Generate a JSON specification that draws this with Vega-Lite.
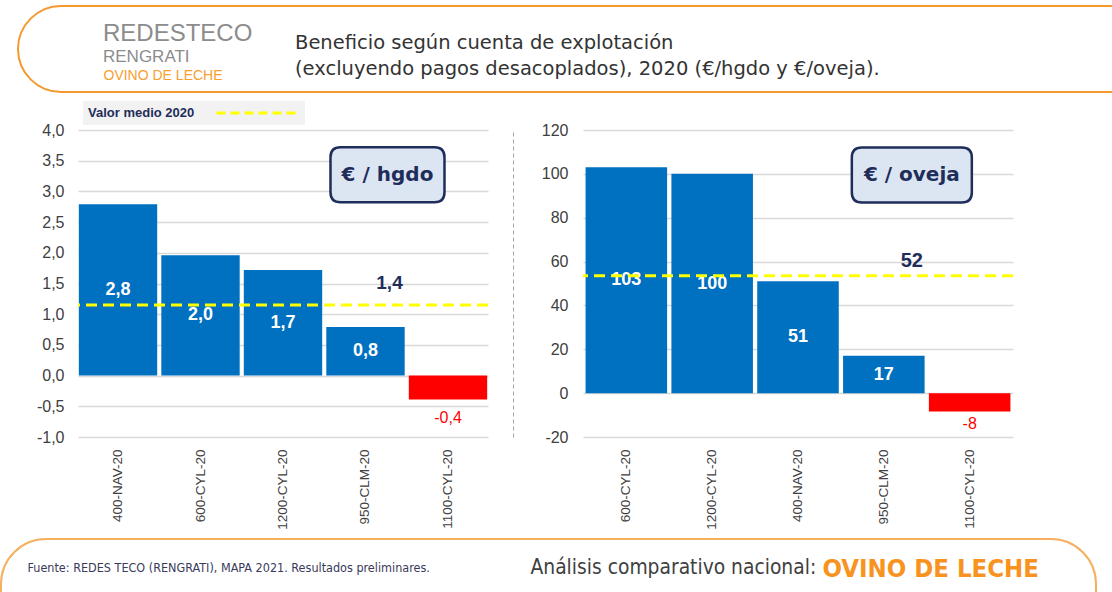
{
  "$schema": "https://vega.github.io/schema/vega-lite/v6.json",
  "background": "white",
  "padding": {"left": 0, "top": 5, "right": 0, "bottom": 0},
  "bounds": "flush",
  "spacing": 95,
  "config": {
    "locale": {"number": {"decimal": ",", "thousands": ".", "grouping": [3], "currency": ["", " €"], "minus": "-"}},
    "view": {"stroke": null},
    "font": "Liberation Sans",
    "legend": {"strokeWidth": 2}
  },
  "datasets": {
    "hgdo": [
      {"explotacion": "400-NAV-20", "beneficio": 2.79},
      {"explotacion": "600-CYL-20", "beneficio": 1.96},
      {"explotacion": "1200-CYL-20", "beneficio": 1.72},
      {"explotacion": "950-CLM-20", "beneficio": 0.79},
      {"explotacion": "1100-CYL-20", "beneficio": -0.39}
    ],
    "oveja": [
      {"explotacion": "600-CYL-20", "beneficio": 103},
      {"explotacion": "1200-CYL-20", "beneficio": 100},
      {"explotacion": "400-NAV-20", "beneficio": 51},
      {"explotacion": "950-CLM-20", "beneficio": 17},
      {"explotacion": "1100-CYL-20", "beneficio": -8.4}
    ],
    "media_hgdo": [{"media": 1.15, "etiqueta": "1,4", "unidad": "€ / hgdo", "leyenda": "Valor medio 2020"}],
    "media_oveja": [{"media": 53.5, "etiqueta": "52", "unidad": "€ / oveja", "leyenda": "Valor medio 2020"}]
  },
  "resolve": {
    "scale": {"x": "independent", "y": "independent", "color": "independent", "shape": "independent"},
    "legend": {"color": "independent", "shape": "independent"}
  },
  "hconcat": [
    {
      "width": 410,
      "height": 307,
      "title": {
        "text": "REDESTECO",
        "subtitle": "RENGRATI",
        "anchor": "start",
        "frame": "group",
        "dx": 25,
        "offset": 3,
        "font": "Liberation Sans",
        "fontSize": 24,
        "fontWeight": "normal",
        "color": "#8c8c8c",
        "subtitleFont": "Liberation Sans",
        "subtitleFontSize": 17,
        "subtitleColor": "#8c8c8c",
        "subtitlePadding": 3
      },
      "data": {"name": "hgdo"},
      "resolve": {"scale": {"y": "independent"}, "axis": {"y": "independent"}},
      "layer": [
        {
          "mark": {"type": "bar"},
          "encoding": {
            "x": {
              "field": "explotacion", "type": "nominal",
              "scale": {"domain": ["400-NAV-20", "600-CYL-20", "1200-CYL-20", "950-CLM-20", "1100-CYL-20"], "paddingInner": 0.05, "paddingOuter": 0.01},
              "axis": {
                "labelAngle": -90, "labelFontSize": 13.5, "labelColor": "#404040", "labelPadding": 12,
                "ticks": false, "domain": false,
                "title": "Fuente: REDES TECO (RENGRATI), MAPA 2021. Resultados preliminares.",
                "titleX": -51, "titleY": 130, "titleAlign": "left", "titleBaseline": "middle",
                "titleFont": "DejaVu Sans Condensed", "titleFontSize": 12.5, "titleFontWeight": "normal", "titleColor": "#3a3a5a"
              }
            },
            "y": {
              "field": "beneficio", "type": "quantitative",
              "scale": {"domain": [-1, 4], "nice": false},
              "axis": {
                "values": [-1, -0.5, 0, 0.5, 1, 1.5, 2, 2.5, 3, 3.5, 4],
                "format": ".1f",
                "grid": true, "gridColor": "#d9d9d9", "gridWidth": 1.5,
                "domain": false, "ticks": false,
                "labelFontSize": 16, "labelColor": "#404040", "labelPadding": 14,
                "title": "OVINO DE LECHE",
                "titleAngle": 0, "titleX": 25, "titleY": -55, "titleAlign": "left", "titleBaseline": "middle",
                "titleFont": "Liberation Sans", "titleFontSize": 14, "titleFontWeight": "normal", "titleColor": "#F7A030"
              }
            },
            "color": {"condition": {"test": "datum.beneficio < 0", "value": "#FF0000"}, "value": "#0070C0"}
          }
        },
        {
          "transform": [{"filter": "datum.beneficio > 0"}],
          "mark": {"type": "text", "color": "white", "fontWeight": "bold", "fontSize": 18, "baseline": "middle"},
          "encoding": {
            "x": {"field": "explotacion", "type": "nominal"},
            "y": {"field": "beneficio", "type": "quantitative", "scale": {"domain": [-2, 8], "nice": false}, "axis": null},
            "text": {"field": "beneficio", "type": "quantitative", "format": ".1f"}
          }
        },
        {
          "transform": [{"filter": "datum.beneficio < 0"}],
          "mark": {"type": "text", "color": "#FF0000", "fontSize": 16, "baseline": "top", "dy": 10},
          "encoding": {
            "x": {"field": "explotacion", "type": "nominal"},
            "y": {"field": "beneficio", "type": "quantitative", "scale": {"domain": [-1, 4], "nice": false}, "axis": null},
            "text": {"field": "beneficio", "type": "quantitative", "format": ".1f"}
          }
        },
        {
          "data": {"name": "media_hgdo"},
          "mark": {"type": "rule", "strokeWidth": 3, "strokeDash": [11, 6]},
          "encoding": {
            "y": {
              "field": "media", "type": "quantitative",
              "scale": {"domain": [-1, 4], "nice": false},
              "axis": {
                "orient": "right", "offset": 25, "labels": false, "ticks": false, "grid": false, "title": null,
                "domain": true, "domainColor": "#a6a6a6", "domainDash": [4, 3], "domainWidth": 1
              }
            },
            "color": {
              "field": "leyenda", "type": "nominal",
              "scale": {"range": ["#FFFF00"]},
              "legend": {
                "orient": "none", "legendX": 5, "legendY": -29,
                "title": "Valor medio 2020", "titleOrient": "left", "titleFontSize": 13, "titleFontWeight": "bold",
                "titleColor": "#1f2d5a", "titlePadding": 20, "titleBaseline": "middle",
                "labelExpr": "''", "labelOffset": 2, "clipHeight": 14,
                "symbolType": "stroke", "symbolSize": 6400, "symbolStrokeWidth": 3, "symbolDash": [9, 5],
                "fillColor": "#f2f2f2", "padding": 5
              }
            }
          }
        },
        {
          "data": {"name": "media_hgdo"},
          "mark": {"type": "text", "color": "#1f2d5a", "fontWeight": "bold", "fontSize": 19, "baseline": "middle", "dx": 24, "dy": -22},
          "encoding": {
            "x": {"datum": "950-CLM-20", "type": "nominal"},
            "y": {"field": "media", "type": "quantitative", "scale": {"domain": [-1, 4], "nice": false}, "axis": null},
            "text": {"field": "etiqueta", "type": "nominal"}
          }
        },
        {
          "data": {"name": "media_hgdo"},
          "mark": {
            "type": "point",
            "size": 12996, "filled": true, "fill": "#dce6f2", "stroke": "#1f2d5a", "strokeWidth": 2.5,
            "opacity": 1, "fillOpacity": 1, "strokeOpacity": 1, "xOffset": 22
          },
          "encoding": {
            "x": {"datum": "950-CLM-20", "type": "nominal"},
            "y": {"datum": 3.27, "type": "quantitative", "scale": {"domain": [-1, 4], "nice": false}, "axis": null},
            "shape": {
              "field": "unidad", "type": "nominal",
              "scale": {"range": ["M-0.825,-0.4825L0.825,-0.4825Q1,-0.4825,1,-0.3075L1,0.3075Q1,0.4825,0.825,0.4825L-0.825,0.4825Q-1,0.4825,-1,0.3075L-1,-0.3075Q-1,-0.4825,-0.825,-0.4825Z"]},
              "legend": {
                "orient": "none", "legendX": -77, "legendY": 409,
                "title": null, "labelExpr": "''", "labelOffset": 0,
                "symbolSize": 1194649, "symbolOpacity": 0, "clipHeight": 110, "padding": 0,
                "strokeColor": "#F5B060", "cornerRadius": 45
              }
            }
          }
        },
        {
          "data": {"name": "media_hgdo"},
          "mark": {"type": "text", "color": "#1f2d5a", "font": "DejaVu Sans", "fontWeight": "bold", "fontSize": 20, "baseline": "middle", "dx": 22},
          "encoding": {
            "x": {"datum": "950-CLM-20", "type": "nominal"},
            "y": {"datum": 3.27, "type": "quantitative", "scale": {"domain": [-1, 4], "nice": false}, "axis": null},
            "text": {"field": "unidad", "type": "nominal"}
          }
        }
      ]
    },
    {
      "width": 430,
      "height": 307,
      "title": {
        "text": ["Beneficio según cuenta de explotación", "(excluyendo pagos desacoplados), 2020 (€/hgdo y €/oveja)."],
        "anchor": "start",
        "frame": "group",
        "dx": -288,
        "offset": -74,
        "font": "DejaVu Sans",
        "fontSize": 19.5,
        "fontWeight": "normal",
        "lineHeight": 26,
        "color": "#333333"
      },
      "data": {"name": "oveja"},
      "resolve": {"scale": {"y": "independent"}, "axis": {"y": "independent"}},
      "layer": [
        {
          "mark": {"type": "bar"},
          "encoding": {
            "x": {
              "field": "explotacion", "type": "nominal",
              "scale": {"domain": ["600-CYL-20", "1200-CYL-20", "400-NAV-20", "950-CLM-20", "1100-CYL-20"], "paddingInner": 0.05, "paddingOuter": 0.03},
              "axis": {
                "labelAngle": -90, "labelFontSize": 13.5, "labelColor": "#404040", "labelPadding": 12,
                "ticks": false, "domain": false,
                "title": "Análisis comparativo nacional:",
                "titleX": -53, "titleY": 130, "titleAlign": "left", "titleBaseline": "middle",
                "titleFont": "DejaVu Sans Condensed", "titleFontSize": 20.8, "titleFontWeight": "normal", "titleColor": "#404040"
              }
            },
            "y": {
              "field": "beneficio", "type": "quantitative",
              "scale": {"domain": [-20, 120], "nice": false},
              "axis": {
                "values": [-20, 0, 20, 40, 60, 80, 100, 120],
                "format": "d",
                "grid": true, "gridColor": "#d9d9d9", "gridWidth": 1.5,
                "domain": false, "ticks": false,
                "labelFontSize": 16, "labelColor": "#404040", "labelPadding": 15,
                "title": "OVINO DE LECHE",
                "titleAngle": 0, "titleX": 239, "titleY": 438, "titleAlign": "left", "titleBaseline": "middle",
                "titleFont": "DejaVu Sans Condensed", "titleFontSize": 25.5, "titleFontWeight": "bold", "titleColor": "#F7931E"
              }
            },
            "color": {"condition": {"test": "datum.beneficio < 0", "value": "#FF0000"}, "value": "#0070C0"}
          }
        },
        {
          "transform": [{"filter": "datum.beneficio > 0"}],
          "mark": {"type": "text", "color": "white", "fontWeight": "bold", "fontSize": 18, "baseline": "middle"},
          "encoding": {
            "x": {"field": "explotacion", "type": "nominal"},
            "y": {"field": "beneficio", "type": "quantitative", "scale": {"domain": [-40, 240], "nice": false}, "axis": null},
            "text": {"field": "beneficio", "type": "quantitative", "format": "d"}
          }
        },
        {
          "transform": [{"filter": "datum.beneficio < 0"}],
          "mark": {"type": "text", "color": "#FF0000", "fontSize": 16, "baseline": "top", "dy": 4},
          "encoding": {
            "x": {"field": "explotacion", "type": "nominal"},
            "y": {"field": "beneficio", "type": "quantitative", "scale": {"domain": [-20, 120], "nice": false}, "axis": null},
            "text": {"field": "beneficio", "type": "quantitative", "format": "d"}
          }
        },
        {
          "data": {"name": "media_oveja"},
          "mark": {"type": "rule", "strokeWidth": 3, "strokeDash": [11, 6]},
          "encoding": {
            "y": {"field": "media", "type": "quantitative", "scale": {"domain": [-20, 120], "nice": false}, "axis": null},
            "color": {
              "field": "leyenda", "type": "nominal", "scale": {"range": ["#FFFF00"]},
              "legend": {
                "orient": "none", "legendX": -565, "legendY": -124,
                "title": null, "labelExpr": "''", "labelOffset": 0,
                "symbolType": "square", "symbolSize": 1440000, "symbolOpacity": 0, "clipHeight": 76, "padding": 5,
                "strokeColor": "#F39A2E", "cornerRadius": 43
              }
            }
          }
        },
        {
          "data": {"name": "media_oveja"},
          "mark": {"type": "text", "color": "#1f2d5a", "fontWeight": "bold", "fontSize": 20, "baseline": "middle", "dx": 28, "dy": -15},
          "encoding": {
            "x": {"datum": "950-CLM-20", "type": "nominal"},
            "y": {"field": "media", "type": "quantitative", "scale": {"domain": [-20, 120], "nice": false}, "axis": null},
            "text": {"field": "etiqueta", "type": "nominal"}
          }
        },
        {
          "data": {"name": "media_oveja"},
          "mark": {
            "type": "point",
            "shape": "M-0.8333,-0.4583L0.8333,-0.4583Q1,-0.4583,1,-0.2916L1,0.2916Q1,0.4583,0.8333,0.4583L-0.8333,0.4583Q-1,0.4583,-1,0.2916L-1,-0.2916Q-1,-0.4583,-0.8333,-0.4583Z",
            "size": 14400, "filled": true, "fill": "#dce6f2", "stroke": "#1f2d5a", "strokeWidth": 2.5,
            "opacity": 1, "fillOpacity": 1, "strokeOpacity": 1, "xOffset": 28
          },
          "encoding": {
            "x": {"datum": "950-CLM-20", "type": "nominal"},
            "y": {"datum": 99.5, "type": "quantitative", "scale": {"domain": [-20, 120], "nice": false}, "axis": null}
          }
        },
        {
          "data": {"name": "media_oveja"},
          "mark": {"type": "text", "color": "#1f2d5a", "font": "DejaVu Sans", "fontWeight": "bold", "fontSize": 20, "baseline": "middle", "dx": 28},
          "encoding": {
            "x": {"datum": "950-CLM-20", "type": "nominal"},
            "y": {"datum": 99.5, "type": "quantitative", "scale": {"domain": [-20, 120], "nice": false}, "axis": null},
            "text": {"field": "unidad", "type": "nominal"}
          }
        }
      ]
    }
  ]
}
